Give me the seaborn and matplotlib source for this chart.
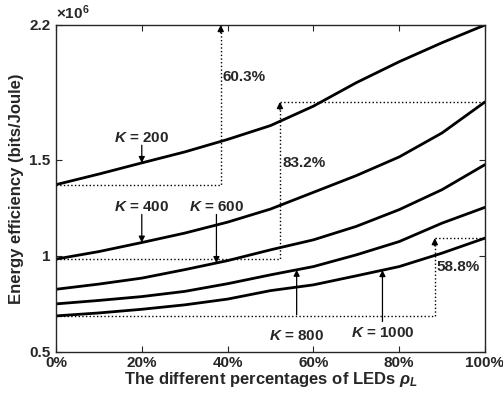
import numpy as np
import pandas as pd
import matplotlib
matplotlib.use("Agg")
import matplotlib.pyplot as plt
import seaborn as sns

# ---- data (energy efficiency in units of 1e6 bits/Joule) ----
rho = [0, 10, 20, 30, 40, 50, 60, 70, 80, 90, 100]
k200 = [1.370, 1.425, 1.483, 1.540, 1.605, 1.677, 1.778, 1.900, 2.009, 2.108, 2.200]
k400 = [0.983, 1.022, 1.069, 1.118, 1.175, 1.243, 1.330, 1.417, 1.514, 1.639, 1.800]
k600 = [0.826, 0.853, 0.884, 0.928, 0.975, 1.031, 1.083, 1.153, 1.240, 1.344, 1.474]
k800 = [0.750, 0.768, 0.788, 0.815, 0.855, 0.901, 0.944, 1.005, 1.074, 1.170, 1.252]
k1000 = [0.6875, 0.703, 0.722, 0.745, 0.775, 0.819, 0.849, 0.896, 0.944, 1.014, 1.092]
series_names = ["K = 200", "K = 400", "K = 600", "K = 800", "K = 1000"]
series = [k200, k400, k600, k800, k1000]

xticks = [0, 20, 40, 60, 80, 100]
xticklabels = ["0%", "20%", "40%", "60%", "80%", "100%"]
yticks = [0.5, 1.0, 1.5, 2.2]
yticklabels = ["0.5", "1", "1.5", "2.2"]

# growth annotations: (series index, x of vertical dotted line, label)
growth = [(0, 38.4, "60.3%"), (1, 52.2, "83.2%"), (4, 88.3, "58.8%")]

df = pd.DataFrame({
    "rho": np.tile(rho, len(series)),
    "ee": np.concatenate(series),
    "K": np.repeat(series_names, len(rho)),
})

sns.set_style("ticks")
plt.rcParams["font.family"] = ["Liberation Sans", "DejaVu Sans"]
plt.rcParams["font.weight"] = "bold"
plt.rcParams["mathtext.fontset"] = "custom"
plt.rcParams["mathtext.rm"] = "Liberation Sans"
plt.rcParams["mathtext.it"] = "Liberation Sans:italic"
plt.rcParams["mathtext.bf"] = "Liberation Sans:bold"
plt.rcParams["mathtext.bfit"] = "Liberation Sans:bold:italic"

TXT = "#262626"
fig = plt.figure(figsize=(5.03, 4.05), dpi=100)
ax = fig.add_axes([0.1113, 0.1309, 0.8529, 0.8074])

sns.lineplot(data=df, x="rho", y="ee", hue="K", palette=["black"] * 5,
             linewidth=2.0, legend=False, ax=ax, sort=False)

ax.set_xlim(0, 100)
ax.set_ylim(0.5, 2.2)
ax.set_xticks(xticks)
ax.set_xticklabels(xticklabels)
ax.set_yticks(yticks)
ax.set_yticklabels(yticklabels)
ax.tick_params(direction="in", top=True, right=True, length=4, width=0.8,
               labelsize=11, colors=TXT)
ax.tick_params(axis="y", pad=4)
ax.tick_params(axis="x", pad=3)
for lab in ax.get_xticklabels() + ax.get_yticklabels():
    lab.set_fontweight("bold")
for sp in ax.spines.values():
    sp.set_visible(True)
    sp.set_linewidth(1.0)
    sp.set_color(TXT)

ax.set_xlabel(r"The different percentages of LEDs $\rho_{\mathbfit{L}}$",
              fontsize=12, fontweight="bold", color=TXT, labelpad=0)
ax.set_ylabel("Energy efficiency (bits/Joule)", fontsize=12,
              fontweight="bold", color=TXT, labelpad=4)
ax.text(0.0, 1.008, r"$\times\mathbf{10}^{\mathbf{6}}$", transform=ax.transAxes,
        fontsize=11, ha="left", va="bottom", color=TXT)

# growth dotted lines
for idx, xv, lab in growth:
    s = series[idx]
    y0, y1 = s[0], s[-1]
    ax.plot([0, xv, xv], [y0, y0, y1], ls=":", color="black", lw=1.0,
            clip_on=False)
    if idx != 0:
        ax.plot([xv, 100], [y1, y1], ls=":", color="black", lw=1.0)
    ax.annotate("", xy=(xv, y1), xytext=(xv, y1 - 0.04),
                arrowprops=dict(arrowstyle="-|>", color="black", lw=1.0,
                                mutation_scale=9, shrinkA=0, shrinkB=0))

ax.text(38.9, 1.93, "60.3%", fontsize=11, fontweight="bold",
        ha="left", va="center", color=TXT)
ax.text(52.9, 1.48, "83.2%", fontsize=11, fontweight="bold",
        ha="left", va="center", color=TXT)
ax.text(88.8, 0.94, "58.8%", fontsize=11, fontweight="bold",
        ha="left", va="center", color=TXT)

# K labels with arrows: (series idx, x at curve, text y, arrow start y)
klabels = [(0, 20.0, 1.615, 1.575), (1, 20.0, 1.254, 1.215),
           (2, 37.4, 1.254, 1.215), (3, 56.1, 0.583, 0.693),
           (4, 76.1, 0.597, 0.658)]
for idx, xc, ty, ay in klabels:
    yc = float(np.interp(xc, rho, series[idx]))
    ax.annotate("", xy=(xc, yc), xytext=(xc, ay),
                arrowprops=dict(arrowstyle="-|>", color="black", lw=0.9,
                                mutation_scale=9, shrinkA=0, shrinkB=0))
    num = series_names[idx].split("= ")[1]
    ax.text(xc, ty, r"$\mathbfit{K}$" + " = " + num, fontsize=11,
            fontweight="bold", ha="center", va="center", color=TXT)

fig.savefig("out.png", dpi=100)
